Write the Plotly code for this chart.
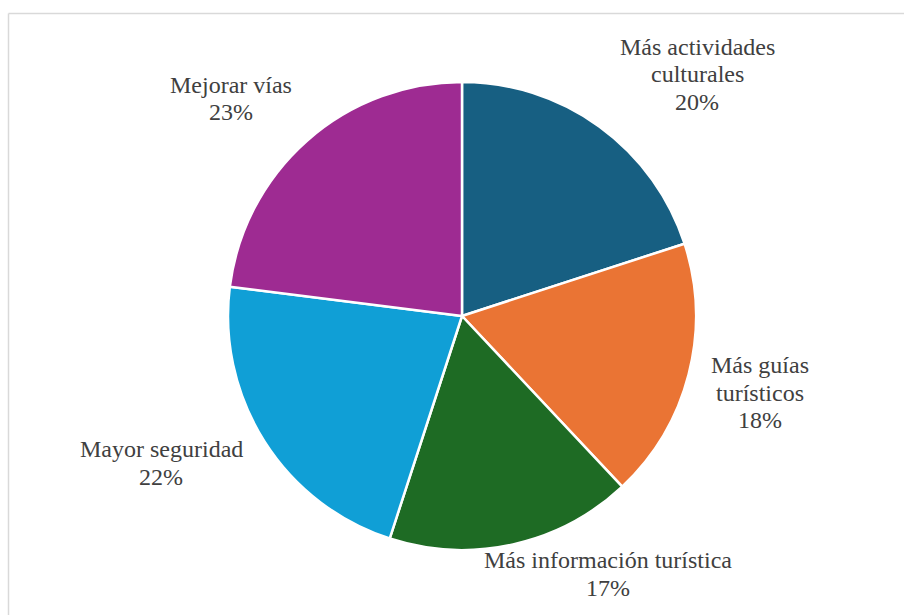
import plotly.graph_objects as go

# Survey results: suggested improvements
categories = [
    "Más actividades culturales",
    "Más guías turísticos",
    "Más información turística",
    "Mayor seguridad",
    "Mejorar vías",
]
display_labels = [
    "Más actividades<br>culturales",
    "Más guías<br>turísticos",
    "Más información turística",
    "Mayor seguridad",
    "Mejorar vías",
]
percentages = [20, 18, 17, 22, 23]
colors = ["#175f82", "#ea7434", "#1e6b24", "#109fd6", "#9e2b92"]

W, H = 904, 615
cx, cy, r = 462, 316, 234

# label anchor: horizontal centre and baseline of the first line (pixels, top-left origin)
label_pos = [(697, 55), (760, 373), (608, 568), (161, 457), (231, 93)]
LINE_GAP = 27.5
FONT_SIZE = 24
BASELINE_TO_MIDDLE = 8

fig = go.Figure(
    go.Pie(
        labels=categories,
        values=percentages,
        sort=False,
        direction="clockwise",
        rotation=0,
        marker=dict(colors=colors, line=dict(color="white", width=2.5)),
        textinfo="none",
        hoverinfo="label+percent",
        domain=dict(
            x=[(cx - r) / W, (cx + r) / W],
            y=[(H - cy - r) / H, (H - cy + r) / H],
        ),
    )
)

annotations = []
for lab, val, (px, py) in zip(display_labels, percentages, label_pos):
    lines = lab.split("<br>") + [f"{val}%"]
    for i, line in enumerate(lines):
        base = py + i * LINE_GAP
        annotations.append(
            dict(
                x=px / W,
                y=1 - (base - BASELINE_TO_MIDDLE) / H,
                xref="paper",
                yref="paper",
                text=line,
                showarrow=False,
                xanchor="center",
                yanchor="middle",
                align="center",
                font=dict(family="Liberation Serif", size=FONT_SIZE, color="#404040"),
            )
        )

frame = dict(color="#d9d9d9", width=1.5)
shapes = [
    dict(type="line", xref="paper", yref="paper",
         x0=8.5 / W, x1=1, y0=1 - 13.5 / H, y1=1 - 13.5 / H, line=frame),
    dict(type="line", xref="paper", yref="paper",
         x0=8.5 / W, x1=8.5 / W, y0=1 - 13.5 / H, y1=0, line=frame),
]

fig.update_layout(
    width=W,
    height=H,
    margin=dict(l=0, r=0, t=0, b=0),
    paper_bgcolor="white",
    plot_bgcolor="white",
    showlegend=False,
    annotations=annotations,
    shapes=shapes,
)

fig.write_html("out.html")
